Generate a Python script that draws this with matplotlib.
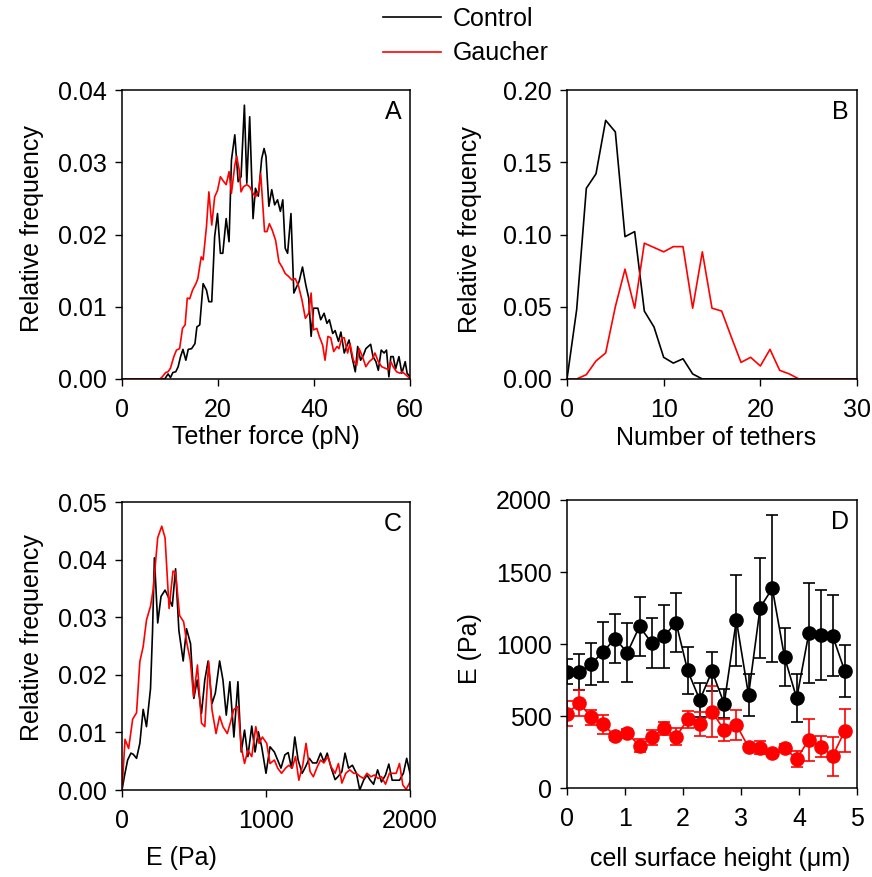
import matplotlib
matplotlib.use("Agg")
import matplotlib.pyplot as plt
from matplotlib.lines import Line2D

plt.rcParams["font.family"] = ["Liberation Sans", "DejaVu Sans"]
plt.rcParams["font.size"] = 18

# --- A: tether force histogram
force_ctrl_x = [0, 8.9, 9.6, 10.1, 10.6, 11.2, 11.7, 12.2, 12.7, 13.3, 13.8, 14.5, 15.2, 15.6, 16.2, 16.9,
                17.6, 18.1, 18.7, 19.3, 19.9, 20.5, 21.0, 21.7, 22.3, 22.8, 23.5, 24.2, 24.8, 25.5, 26.0,
                26.6, 27.3, 27.8, 28.4, 29.1, 29.6, 30.0, 30.6, 31.2, 31.8, 32.4, 33.0, 33.5, 34.0, 34.5,
                35.2, 35.8, 36.4, 36.9, 37.6, 38.3, 38.9, 39.4, 39.9, 40.8, 41.4, 42.1, 42.7, 43.2, 43.9,
                44.4, 45.1, 45.6, 46.3, 46.8, 47.3, 47.9, 48.6, 49.1, 49.7, 50.3, 50.8, 51.3, 51.8, 52.3,
                52.9, 53.4, 54.0, 54.6, 55.1, 55.6, 56.0, 56.5, 57.0, 57.7, 58.3, 59.0, 59.4, 60]
force_ctrl_y = [0, 0, 0.0007, 0.0002, 0.0009, 0.0010, 0.0017, 0.0031, 0.0041, 0.0026, 0.0041, 0.0042,
                0.0049, 0.0072, 0.0075, 0.0132, 0.0123, 0.0107, 0.0107, 0.0197, 0.0229, 0.0174, 0.0174,
                0.0222, 0.0190, 0.0303, 0.0338, 0.0273, 0.0280, 0.0379, 0.0271, 0.0363, 0.0222, 0.0264,
                0.0253, 0.0305, 0.0319, 0.0308, 0.0239, 0.0262, 0.0241, 0.0248, 0.0232, 0.0248, 0.0181,
                0.0174, 0.0229, 0.0119, 0.0128, 0.0135, 0.0155, 0.0130, 0.0112, 0.0059, 0.0098, 0.0098,
                0.0082, 0.0091, 0.0077, 0.0082, 0.0063, 0.0067, 0.0052, 0.0065, 0.0036, 0.0045, 0.0054,
                0.0031, 0.0010, 0.0045, 0.0026, 0.0033, 0.0042, 0.0045, 0.0048, 0.0031, 0.0024, 0.0012,
                0.0040, 0.0036, 0.0040, 0.0003, 0.0031, 0.0031, 0.0014, 0.0031, 0.0008, 0.0024, 0.0008,
                0.0003]
force_gau_x = [0, 7.9, 8.4, 9.1, 9.6, 10.1, 10.8, 11.35, 12.0, 12.6, 13.15, 13.6, 14.1, 14.7, 15.4, 15.8,
               16.5, 16.9, 17.6, 18.1, 18.7, 19.3, 19.9, 20.5, 21.0, 21.7, 22.3, 22.8, 23.5, 23.9, 24.4,
               24.8, 25.3, 26.0, 26.6, 27.3, 27.8, 28.5, 28.9, 29.7, 30.2, 30.7, 31.3, 32.0, 32.7, 33.35,
               34.0, 34.7, 35.4, 36.1, 36.8, 37.5, 38.2, 38.9, 39.4, 39.9, 40.6, 41.1, 41.8, 42.3, 42.9,
               43.5, 44.1, 44.8, 45.2, 45.8, 46.3, 47.0, 47.5, 48.2, 48.9, 49.4, 50.1, 50.8, 51.5, 52.2,
               52.7, 53.4, 54.1, 54.8, 55.5, 56.0, 56.5, 57.2, 57.9, 58.4, 59.1, 59.6, 60]
force_gau_y = [0, 0, 0.0003, 0.0009, 0.0010, 0.0015, 0.0031, 0.0040, 0.0042, 0.0070, 0.0075, 0.0112,
               0.0111, 0.0123, 0.0132, 0.0139, 0.0169, 0.0165, 0.0211, 0.0259, 0.0213, 0.0252, 0.0261,
               0.0280, 0.0275, 0.0269, 0.0287, 0.0257, 0.0296, 0.0308, 0.0290, 0.0259, 0.0266, 0.0269,
               0.0266, 0.0257, 0.0252, 0.0261, 0.0284, 0.0204, 0.0204, 0.0215, 0.0206, 0.0192, 0.0162,
               0.0155, 0.0146, 0.0142, 0.0137, 0.0139, 0.0128, 0.0109, 0.0084, 0.0091, 0.0119, 0.0068,
               0.0070, 0.0059, 0.0047, 0.0026, 0.0059, 0.0057, 0.0038, 0.0045, 0.0042, 0.0057, 0.0057,
               0.0036, 0.0049, 0.0026, 0.0019, 0.0042, 0.0031, 0.0017, 0.0024, 0.0028, 0.0036, 0.0024,
               0.0017, 0.0015, 0.0013, 0.0024, 0.0017, 0.0010, 0.0008, 0.0010, 0.0006, 0.0003, 0.0]

# --- B: number of tethers
tethers = list(range(0, 31))
tethers_ctrl = [0, 0.048, 0.132, 0.142, 0.179, 0.171, 0.0985, 0.102, 0.047, 0.036, 0.015, 0.011, 0.014,
                0.0035, 0, 0, 0, 0, 0, 0, 0, 0, 0, 0, 0, 0, 0, 0, 0, 0, 0]
tethers_gau = [0, 0, 0.003, 0.0125, 0.018, 0.050, 0.076, 0.049, 0.094, 0.091, 0.088, 0.0916, 0.0916,
               0.049, 0.088, 0.049, 0.047, 0.029, 0.0115, 0.015, 0.009, 0.0205, 0.006, 0.0035, 0,
               0, 0, 0, 0, 0, 0]

# --- C: Young's modulus histogram
E_ctrl_x = [0, 16, 39, 62, 78, 101, 124, 147, 170, 198, 212, 225, 248, 271, 299, 322, 349, 372, 395, 425,
            448, 476, 499, 522, 552, 575, 598, 625, 648, 678, 701, 724, 749, 777, 805, 828, 851, 874, 901,
            924, 947, 970, 1000, 1028, 1058, 1081, 1104, 1131, 1154, 1177, 1200, 1223, 1251, 1274, 1301,
            1324, 1352, 1379, 1402, 1425, 1453, 1480, 1503, 1527, 1549, 1573, 1600, 1628, 1651, 1678,
            1701, 1724, 1747, 1775, 1802, 1830, 1853, 1876, 1904, 1927, 1954, 1977, 2000]
E_ctrl_y = [0, 0.0023, 0.0052, 0.0064, 0.0062, 0.0055, 0.0081, 0.0140, 0.0110, 0.0176, 0.0275, 0.0403,
            0.0290, 0.0336, 0.0347, 0.0335, 0.0319, 0.0384, 0.0277, 0.0224, 0.0280, 0.0254, 0.0159, 0.0191,
            0.0133, 0.0191, 0.0224, 0.0150, 0.0168, 0.0224, 0.0191, 0.0130, 0.0188, 0.0092, 0.0188, 0.0066,
            0.0104, 0.0058, 0.0111, 0.0066, 0.0101, 0.0075, 0.0029, 0.0075, 0.0066, 0.0052, 0.0038, 0.0061,
            0.0065, 0.0038, 0.0092, 0.0052, 0.0029, 0.0040, 0.0055, 0.0047, 0.0047, 0.0064, 0.0049, 0.0064,
            0.0038, 0.0018, 0.0024, 0.0032, 0.0064, 0.0038, 0.0043, 0.0029, 0.0, 0.0017, 0.0026, 0.0017,
            0.0010, 0.0035, 0.0014, 0.0026, 0.0045, 0.0017, 0.0017, 0.0017, 0.0029, 0.0055, 0.0029]
E_gau_x = [0, 21, 46, 74, 101, 124, 147, 170, 198, 216, 248, 276, 299, 327, 354, 372, 400, 428, 451, 474,
           497, 524, 552, 575, 602, 625, 653, 678, 701, 731, 754, 777, 805, 828, 851, 874, 901, 929, 952,
           975, 1005, 1028, 1058, 1081, 1108, 1136, 1159, 1182, 1205, 1228, 1255, 1278, 1306, 1329, 1352,
           1379, 1402, 1429, 1453, 1480, 1503, 1527, 1554, 1581, 1609, 1628, 1651, 1678, 1701, 1729, 1752,
           1779, 1802, 1830, 1857, 1880, 1904, 1927, 1950, 1973, 2000]
E_gau_y = [0, 0.0088, 0.0072, 0.0123, 0.0134, 0.0223, 0.0249, 0.0295, 0.0319, 0.0347, 0.0438, 0.0458,
           0.0438, 0.0315, 0.0380, 0.0378, 0.0303, 0.0292, 0.0254, 0.0226, 0.0162, 0.0217, 0.0116, 0.0110,
           0.0223, 0.0139, 0.0098, 0.0128, 0.0110, 0.0098, 0.0118, 0.0140, 0.0145, 0.0075, 0.0046, 0.0069,
           0.0058, 0.0110, 0.0081, 0.0092, 0.0081, 0.0046, 0.0052, 0.0038, 0.0029, 0.0038, 0.0043, 0.0038,
           0.0058, 0.0017, 0.0043, 0.0081, 0.0032, 0.0023, 0.0038, 0.0052, 0.0047, 0.0058, 0.0040, 0.0029,
           0.0046, 0.0012, 0.0029, 0.0035, 0.0029, 0.0029, 0.0024, 0.0020, 0.0029, 0.0023, 0.0026, 0.0020,
           0.0023, 0.0010, 0.0029, 0.0029, 0.0029, 0.0046, 0.0009, 0.0001, 0.0014]

# --- D: E vs cell surface height
height = [0, 0.21, 0.42, 0.62, 0.83, 1.04, 1.25, 1.46, 1.67, 1.88, 2.08, 2.29, 2.5, 2.71, 2.92, 3.13,
          3.33, 3.54, 3.75, 3.96, 4.17, 4.38, 4.58, 4.79]
E_h_ctrl = [807, 805, 862, 945, 1037, 940, 1122, 1007, 1053, 1149, 816, 611, 811, 586, 1165, 646,
            1253, 1386, 910, 623, 1076, 1064, 1057, 811]
E_h_ctrl_err = [86, 126, 145, 210, 170, 205, 205, 175, 220, 205, 160, 115, 134, 100, 316, 148,
                347, 510, 204, 167, 347, 312, 280, 180]
E_h_gau = [517, 591, 490, 444, 359, 379, 294, 352, 414, 356, 476, 444, 531, 402, 439, 283,
           278, 244, 278, 202, 336, 287, 221, 398]
E_h_gau_err = [88, 88, 53, 66, 24, 34, 43, 54, 45, 59, 58, 85, 180, 75, 105, 22,
               45, 22, 28, 57, 146, 71, 135, 148]

W, H = 872, 877
fig = plt.figure(figsize=(W / 100, H / 100), dpi=100)

def add_ax(l, t, r, b):
    return fig.add_axes([l / W, 1 - b / H, (r - l) / W, (b - t) / H])

axA = add_ax(122, 90, 410, 379)
axB = add_ax(567, 90, 857, 379)
axC = add_ax(122, 502, 410, 790)
axD = add_ax(567, 500, 857, 788)

lw = 1.2
axA.plot(force_ctrl_x, force_ctrl_y, color="black", lw=lw)
axA.plot(force_gau_x, force_gau_y, color="red", lw=lw)
axB.plot(tethers, tethers_ctrl, color="black", lw=lw)
axB.plot(tethers, tethers_gau, color="red", lw=lw)
axC.plot(E_ctrl_x, E_ctrl_y, color="black", lw=lw)
axC.plot(E_gau_x, E_gau_y, color="red", lw=lw)
axD.errorbar(height, E_h_ctrl, yerr=E_h_ctrl_err, color="black", lw=1.2, marker="o", ms=9.5,
             capsize=4, capthick=1.2, elinewidth=1.2)
axD.errorbar(height, E_h_gau, yerr=E_h_gau_err, color="red", lw=1.2, marker="o", ms=9.5,
             capsize=4, capthick=1.2, elinewidth=1.2)

axA.set_xlim(0, 60); axA.set_ylim(0, 0.04)
axA.set_xticks([0, 20, 40, 60]); axA.set_yticks([0, 0.01, 0.02, 0.03, 0.04])
axA.set_yticklabels(["0.00", "0.01", "0.02", "0.03", "0.04"])
axB.set_xlim(0, 30); axB.set_ylim(0, 0.2)
axB.set_xticks([0, 10, 20, 30]); axB.set_yticks([0, 0.05, 0.1, 0.15, 0.2])
axB.set_yticklabels(["0.00", "0.05", "0.10", "0.15", "0.20"])
axC.set_xlim(0, 2000); axC.set_ylim(0, 0.05)
axC.set_xticks([0, 1000, 2000]); axC.set_yticks([0, 0.01, 0.02, 0.03, 0.04, 0.05])
axC.set_yticklabels(["0.00", "0.01", "0.02", "0.03", "0.04", "0.05"])
axD.set_xlim(0, 5); axD.set_ylim(0, 2000)
axD.set_xticks([0, 1, 2, 3, 4, 5]); axD.set_yticks([0, 500, 1000, 1500, 2000])

labels = [
    (axA, "Tether force (pN)", (0.5, -0.20), "Relative frequency", (-0.3125, 0.522), "A"),
    (axB, "Number of tethers", (0.514, -0.204), "Relative frequency", (-0.334, 0.516), "B"),
    (axC, "E (Pa)", (0.208, -0.236), "Relative frequency", (-0.3125, 0.531), "C"),
    (axD, "cell surface height (\u03bcm)", (0.528, -0.246), "E (Pa)", (-0.334, 0.484), "D"),
]
for ax, xl, xpos, yl, ypos, letter in labels:
    ax.tick_params(direction="out", length=5, width=1, labelsize=18, pad=6)
    ax.tick_params(axis="x", pad=9)
    for s in ax.spines.values():
        s.set_linewidth(1.1)
    ax.set_xlabel(xl, fontsize=18)
    ax.xaxis.label.set_va("center")
    ax.xaxis.set_label_coords(*xpos)
    ax.set_ylabel(yl, fontsize=18)
    ax.yaxis.label.set_va("center")
    ax.yaxis.set_label_coords(*ypos)
    ax.text(0.941, 0.924, letter, transform=ax.transAxes, fontsize=18, ha="center", va="center")

handles = [Line2D([], [], color="black", lw=lw), Line2D([], [], color="red", lw=lw)]
fig.legend(handles, ["Control", "Gaucher"], loc="upper left", bbox_to_anchor=(383 / W, 1 - 7 / H),
           frameon=False, fontsize=18, handlelength=2.3, handletextpad=0.5, labelspacing=0.42,
           borderpad=0, borderaxespad=0)

fig.savefig("out.png", dpi=100)
